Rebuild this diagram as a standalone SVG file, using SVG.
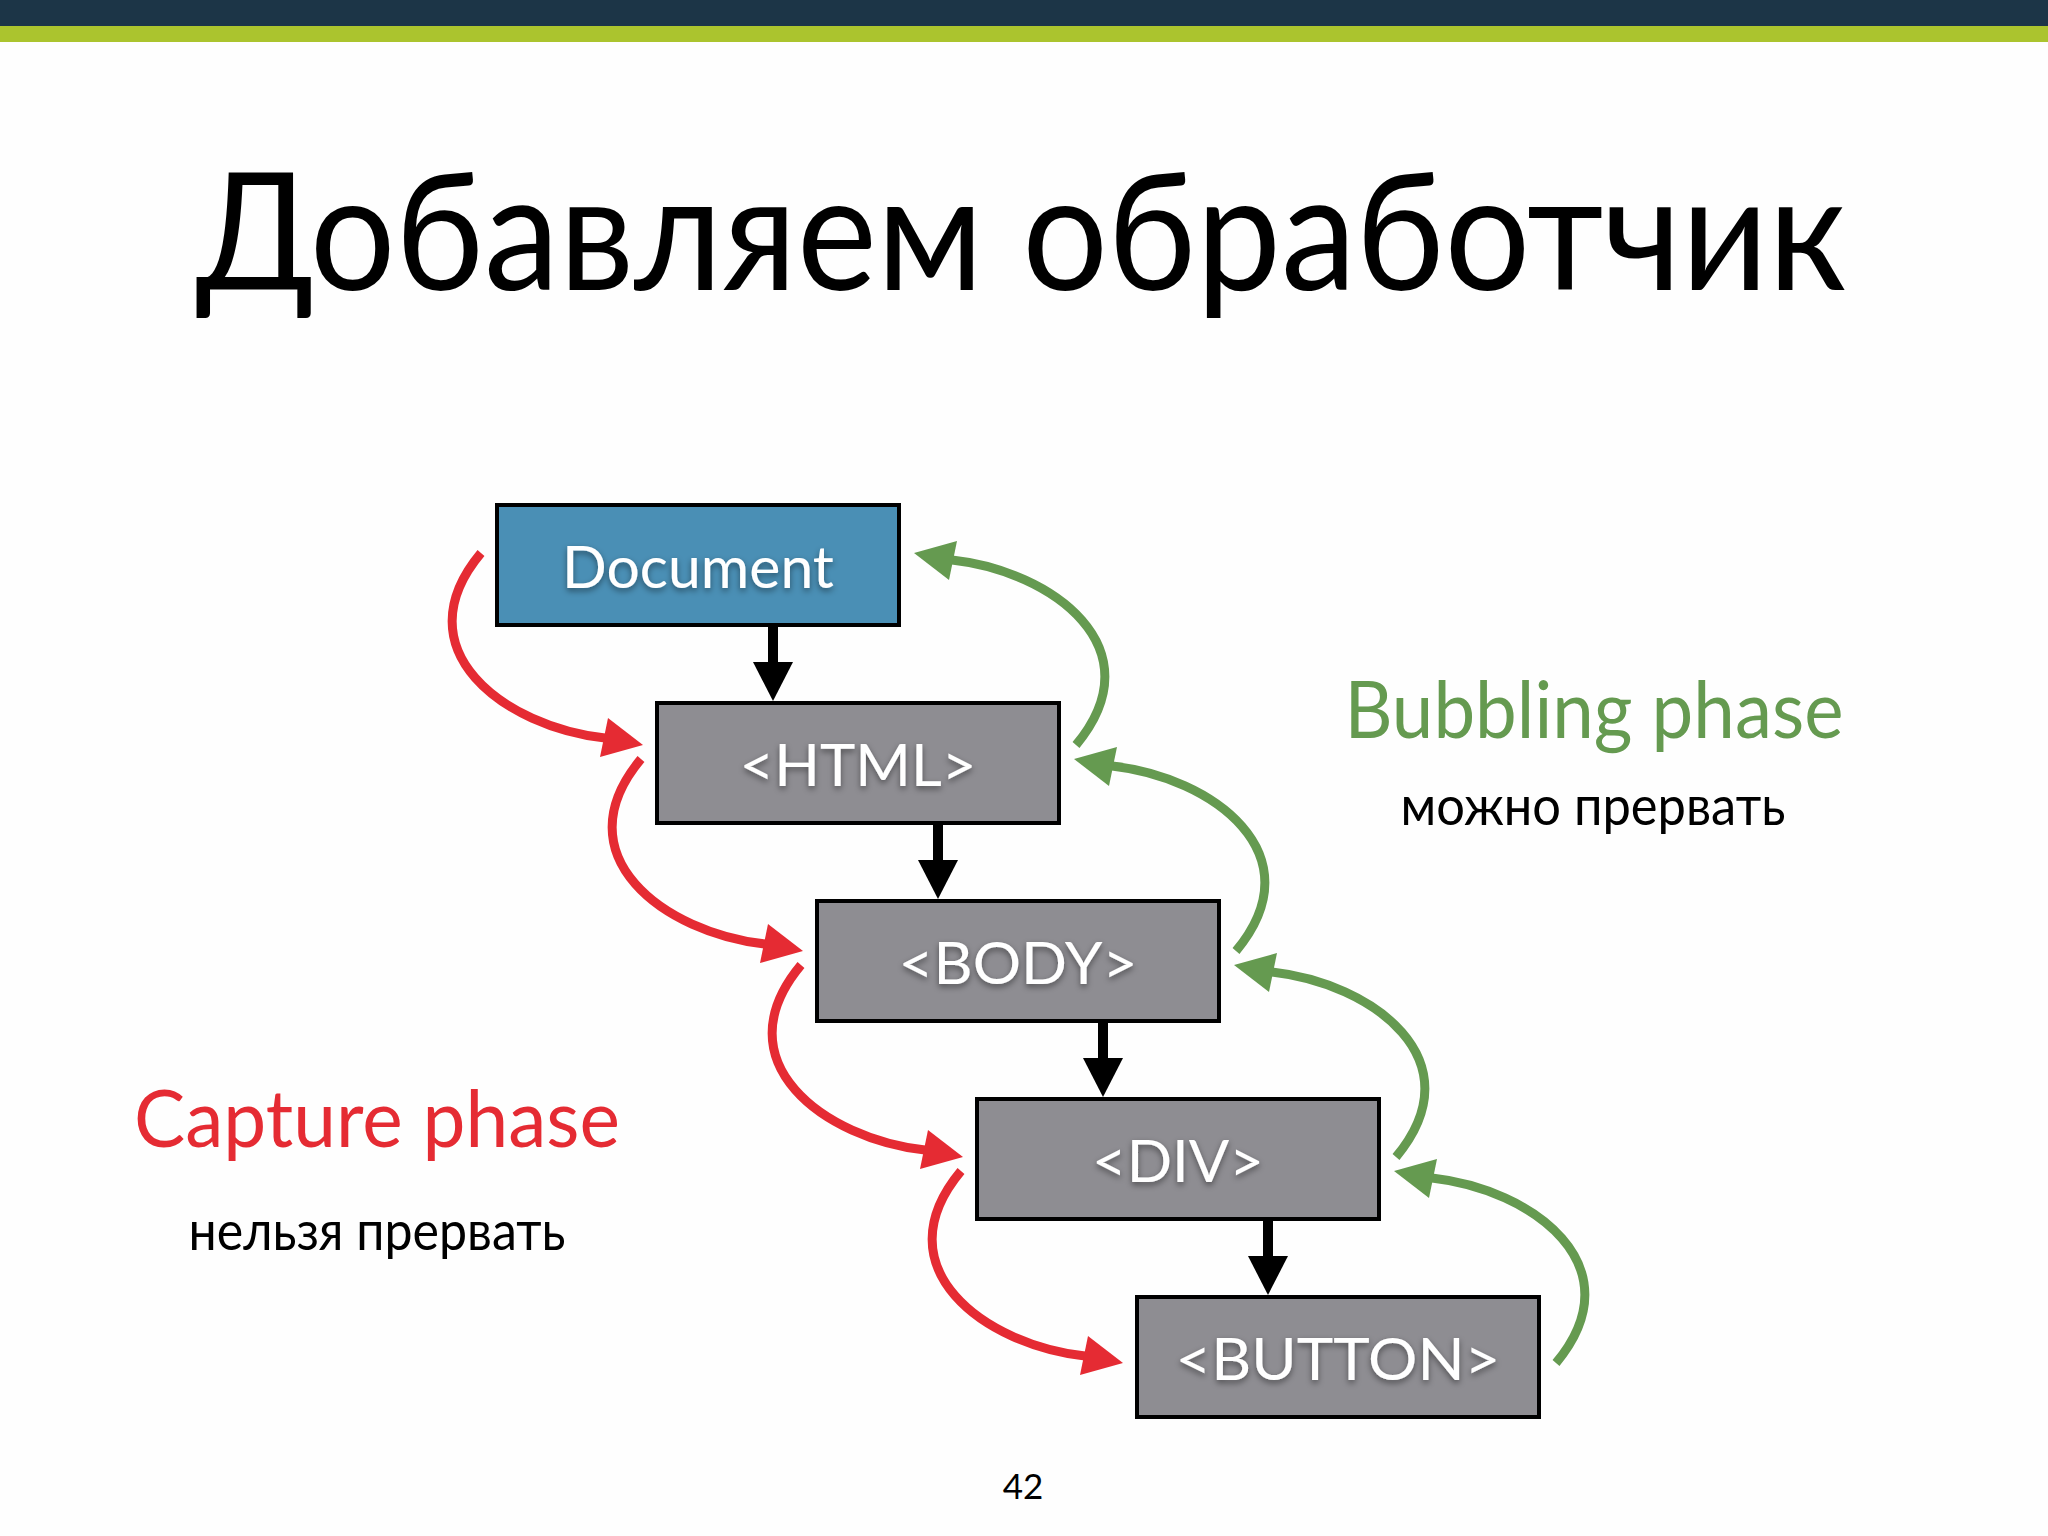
<svg xmlns="http://www.w3.org/2000/svg" xmlns:xlink="http://www.w3.org/1999/xlink" width="2048" height="1536" viewBox="0 0 2048 1536">
<style>
.box{stroke:#000;stroke-width:4}
.doc{fill:#4a8fb5}
.gray{fill:#8e8d92}
.lbl{font-family:Lato,"Noto Sans","Open Sans",sans-serif;font-size:58px;fill:#fff;text-anchor:middle;filter:url(#sh)}
.title{font-family:Lato,"Noto Sans","Open Sans",sans-serif;font-size:163px;fill:#000;text-anchor:middle}
.phase{font-family:Lato,"Noto Sans",sans-serif;font-size:80px;text-anchor:middle}
.sub{font-family:Lato,"Noto Sans",sans-serif;font-size:54px;fill:#000;text-anchor:middle}
.num{font-family:Lato,"Noto Sans",sans-serif;font-size:35px;fill:#000;text-anchor:middle}
.shaft{stroke:#000;stroke-width:10;fill:none}
</style>
<defs>
<filter id="sh" x="-20%" y="-40%" width="140%" height="180%">
<feDropShadow dx="0" dy="3" stdDeviation="3" flood-color="#000" flood-opacity="0.45"/>
</filter>
<g id="curve">
<path d="M0 0 C-81 97 24 174 124 185" fill="none" stroke-width="9"/>
<polygon points="162,192 127,165 119,204" stroke="none"/>
</g>
<g id="down">
<line x1="0" y1="0" x2="0" y2="37" class="shaft"/>
<polygon points="-20,35 20,35 0,74" fill="#000"/>
</g>
</defs>
<rect x="0" y="0" width="2048" height="1536" fill="#fefefe"/>
<rect x="0" y="0" width="2048" height="26" fill="#1c3547"/>
<rect x="0" y="26" width="2048" height="16" fill="#abc42e"/>
<text class="title" x="1021" y="290" textLength="1651" lengthAdjust="spacingAndGlyphs">Добавляем обработчик</text>

<g id="connectors">
<g id="tree-arrows">
<use xlink:href="#down" href="#down" x="773" y="627"/>
<use xlink:href="#down" href="#down" x="938" y="825"/>
<use xlink:href="#down" href="#down" x="1103" y="1023"/>
<use xlink:href="#down" href="#down" x="1268" y="1221"/>
</g>
<g id="capture" fill="#e52b33" stroke="#e52b33">
<use xlink:href="#curve" href="#curve" transform="translate(481,553)"/>
<use xlink:href="#curve" href="#curve" transform="translate(641,759)"/>
<use xlink:href="#curve" href="#curve" transform="translate(801,965)"/>
<use xlink:href="#curve" href="#curve" transform="translate(961,1171)"/>
</g>
<g id="bubble" fill="#659a50" stroke="#659a50">
<use xlink:href="#curve" href="#curve" transform="translate(1076,745) rotate(180)"/>
<use xlink:href="#curve" href="#curve" transform="translate(1236,951) rotate(180)"/>
<use xlink:href="#curve" href="#curve" transform="translate(1396,1157) rotate(180)"/>
<use xlink:href="#curve" href="#curve" transform="translate(1556,1363) rotate(180)"/>
</g>
</g>

<g id="node-document">
<rect class="box doc" x="497" y="505" width="402" height="120"/>
<text class="lbl" x="698" y="588" textLength="272" lengthAdjust="spacingAndGlyphs">Document</text>
</g>
<g id="node-html">
<rect class="box gray" x="657" y="703" width="402" height="120"/>
<text class="lbl" x="858" y="786" textLength="237" lengthAdjust="spacingAndGlyphs">&lt;HTML&gt;</text>
</g>
<g id="node-body">
<rect class="box gray" x="817" y="901" width="402" height="120"/>
<text class="lbl" x="1018" y="984" textLength="239" lengthAdjust="spacingAndGlyphs">&lt;BODY&gt;</text>
</g>
<g id="node-div">
<rect class="box gray" x="977" y="1099" width="402" height="120"/>
<text class="lbl" x="1178" y="1182" textLength="172" lengthAdjust="spacingAndGlyphs">&lt;DIV&gt;</text>
</g>
<g id="node-button">
<rect class="box gray" x="1137" y="1297" width="402" height="120"/>
<text class="lbl" x="1338" y="1380" textLength="325" lengthAdjust="spacingAndGlyphs">&lt;BUTTON&gt;</text>
</g>

<g id="label-bubbling">
<text class="phase" x="1594" y="738" fill="#659a50" textLength="499" lengthAdjust="spacingAndGlyphs">Bubbling phase</text>
<text class="sub" x="1593" y="825" textLength="385" lengthAdjust="spacingAndGlyphs">можно прервать</text>
</g>
<g id="label-capture">
<text class="phase" x="377" y="1147" fill="#e52b33" textLength="486" lengthAdjust="spacingAndGlyphs">Capture phase</text>
<text class="sub" x="377" y="1250" textLength="377" lengthAdjust="spacingAndGlyphs">нельзя прервать</text>
</g>
<text class="num" x="1023" y="1499">42</text>
</svg>
